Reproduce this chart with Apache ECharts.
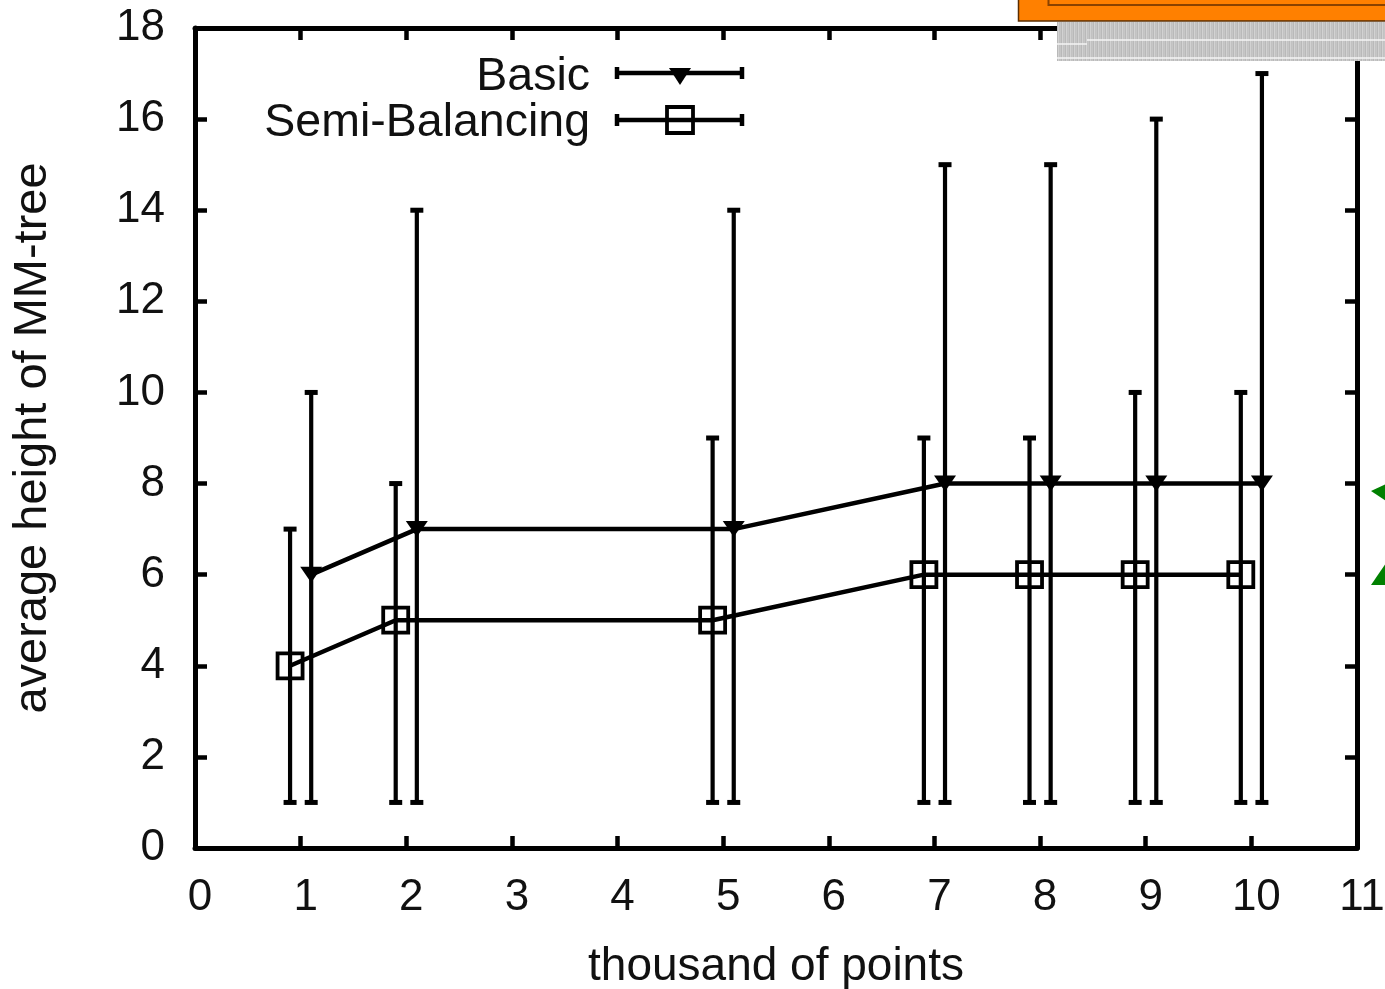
<!DOCTYPE html>
<html>
<head>
<meta charset="utf-8">
<script src="https://cdn.jsdelivr.net/npm/echarts@6/dist/echarts.min.js"></script>
<style>
  html, body { margin: 0; padding: 0; background: #ffffff; }
  #chart { width: 1385px; height: 989px; }
</style>
</head>
<body>
<div id="chart"></div>
<script>
// Tick values
const xTickValues = [0, 1, 2, 3, 4, 5, 6, 7, 8, 9, 10, 11];
const yTickValues = [0, 2, 4, 6, 8, 10, 12, 14, 16, 18];

// Basic MM-tree: average height with min/max range
const basicX    = [1.1, 2.1, 5.1, 7.1, 8.1, 9.1, 10.1];
const basicMean = [6, 7, 7, 8, 8, 8, 8];
const basicLow  = [1, 1, 1, 1, 1, 1, 1];
const basicHigh = [10, 14, 14, 15, 15, 16, 17];

// Semi-Balancing MM-tree
const semiX    = [0.9, 1.9, 4.9, 6.9, 7.9, 8.9, 9.9];
const semiMean = [4, 5, 5, 6, 6, 6, 6];
const semiLow  = [1, 1, 1, 1, 1, 1, 1];
const semiHigh = [7, 8, 9, 9, 9, 10, 10];

const seriesNames = ['Basic', 'Semi-Balancing'];
const xTitle = 'thousand of points';
const yTitle = 'average height of MM-tree';

const FONT = '"Liberation Sans", Arial, Helvetica, sans-serif';
const INK = '#000000';

const chart = echarts.init(document.getElementById('chart'), null, { renderer: 'canvas' });

function zipMean(xs, ys) { return xs.map((x, i) => [x, ys[i]]); }
function zipRange(xs, lo, hi) { return xs.map((x, i) => [x, lo[i], hi[i]]); }

// vertical error bar with short caps
function renderErrorBar(params, api) {
  const x = api.value(0);
  const pLo = api.coord([x, api.value(1)]);
  const pHi = api.coord([x, api.value(2)]);
  const half = 6.5;
  const st = { stroke: INK, lineWidth: 4.2 };
  const cap = { stroke: INK, lineWidth: 5 };
  return {
    type: 'group',
    children: [
      { type: 'line', shape: { x1: pLo[0], y1: pLo[1], x2: pHi[0], y2: pHi[1] }, style: st },
      { type: 'line', shape: { x1: pLo[0] - half, y1: pLo[1], x2: pLo[0] + half, y2: pLo[1] }, style: cap },
      { type: 'line', shape: { x1: pHi[0] - half, y1: pHi[1], x2: pHi[0] + half, y2: pHi[1] }, style: cap }
    ]
  };
}

// stripe pattern for the grey band along the top right
const stripe = document.createElement('canvas');
stripe.width = 4; stripe.height = 1;
(function () {
  const c = stripe.getContext('2d');
  const cols = ['#c6c6c6', '#b9b9b9', '#d2d2d2', '#c2c2c2'];
  cols.forEach((col, i) => { c.fillStyle = col; c.fillRect(i, 0, 1, 1); });
})();

const axisLine = { show: true, onZero: false, lineStyle: { color: INK, width: 5 } };
const axisTick = { show: true, inside: true, length: 12, lineStyle: { color: INK, width: 4.5 } };

// legend sample: line with end caps and a marker in the middle
function legendSample(y, marker) {
  const x1 = 617, x2 = 742, xm = 680;
  const items = [
    { type: 'line', shape: { x1: x1, y1: y, x2: x2, y2: y }, style: { stroke: INK, lineWidth: 4.5 } },
    { type: 'line', shape: { x1: x1, y1: y - 6, x2: x1, y2: y + 6 }, style: { stroke: INK, lineWidth: 4.5 } },
    { type: 'line', shape: { x1: x2, y1: y - 6, x2: x2, y2: y + 6 }, style: { stroke: INK, lineWidth: 4.5 } }
  ];
  if (marker === 'triangle') {
    items.push({ type: 'polygon', shape: { points: [[xm - 11, y - 5], [xm + 11, y - 5], [xm, y + 12]] }, style: { fill: INK } });
  } else {
    items.push({ type: 'rect', shape: { x: xm - 13, y: y - 13, width: 26, height: 26 }, style: { fill: 'none', stroke: INK, lineWidth: 3.8 } });
  }
  return items;
}

const option = {
  backgroundColor: '#ffffff',
  animation: false,
  textStyle: { fontFamily: FONT },
  grid: { left: 195, right: 28, top: 28, bottom: 141, containLabel: false, outerBoundsMode: 'none' },
  xAxis: [
    {
      type: 'value', position: 'bottom', min: 0, max: 11, interval: 1,
      axisLine: axisLine, axisTick: axisTick, splitLine: { show: false },
      axisLabel: { show: true, margin: 28, padding: [0, 0, 0, 10], color: '#111', fontSize: 44, fontFamily: FONT,
        formatter: v => (xTickValues.indexOf(v) >= 0 ? String(v) : '') },
      name: xTitle, nameLocation: 'middle', nameGap: 96,
      nameTextStyle: { fontSize: 46, color: '#111', fontFamily: FONT }
    },
    {
      type: 'value', position: 'top', min: 0, max: 11, interval: 1,
      axisLine: axisLine, axisTick: axisTick, splitLine: { show: false }, axisLabel: { show: false }
    }
  ],
  yAxis: [
    {
      type: 'value', position: 'left', min: 0, max: 18, interval: 2,
      axisLine: axisLine, axisTick: axisTick, splitLine: { show: false },
      axisLabel: { show: true, margin: 30, padding: [4, 0, 0, 0], color: '#111', fontSize: 44, fontFamily: FONT,
        formatter: v => (yTickValues.indexOf(v) >= 0 ? String(v) : '') },
      name: yTitle, nameLocation: 'middle', nameGap: 138, nameRotate: 90,
      nameTextStyle: { fontSize: 47, color: '#111', fontFamily: FONT }
    },
    {
      type: 'value', position: 'right', min: 0, max: 18, interval: 2,
      axisLine: axisLine, axisTick: axisTick, splitLine: { show: false }, axisLabel: { show: false }
    }
  ],
  series: [
    {
      name: seriesNames[0] + ' range', type: 'custom', xAxisIndex: 0, yAxisIndex: 0,
      renderItem: renderErrorBar, data: zipRange(basicX, basicLow, basicHigh), z: 2, silent: true
    },
    {
      name: seriesNames[1] + ' range', type: 'custom', xAxisIndex: 0, yAxisIndex: 0,
      renderItem: renderErrorBar, data: zipRange(semiX, semiLow, semiHigh), z: 2, silent: true
    },
    {
      name: seriesNames[0], type: 'line', data: zipMean(basicX, basicMean), z: 3,
      lineStyle: { color: INK, width: 4.5 },
      symbol: 'triangle', symbolRotate: 180, symbolSize: [22, 16], showAllSymbol: true,
      itemStyle: { color: INK, borderWidth: 0 }
    },
    {
      name: seriesNames[1], type: 'line', data: zipMean(semiX, semiMean), z: 3,
      lineStyle: { color: INK, width: 4.5 },
      symbol: 'rect', symbolSize: 25, showAllSymbol: true,
      itemStyle: { color: 'rgba(0,0,0,0)', borderColor: INK, borderWidth: 3.8 }
    }
  ],
  graphic: [
    // key
    { type: 'text', right: 1385 - 590, top: 54,
      style: { text: seriesNames[0], font: '46.5px ' + FONT, fill: '#111', textAlign: 'right' } },
    { type: 'text', right: 1385 - 590, top: 100,
      style: { text: seriesNames[1], font: '46.5px ' + FONT, fill: '#111', textAlign: 'right' } },
    { type: 'group', children: legendSample(73, 'triangle').concat(legendSample(120, 'square')) },
    // overlapping slide elements along the top right edge
    { type: 'rect', z: 100, shape: { x: 1057, y: 22, width: 330, height: 39 },
      style: { fill: { image: stripe, repeat: 'repeat' } } },
    { type: 'line', z: 101, shape: { x1: 1087, y1: 40, x2: 1387, y2: 40 }, style: { stroke: '#f4f4f4', lineWidth: 1.5 } },
    { type: 'line', z: 101, shape: { x1: 1057, y1: 44, x2: 1087, y2: 44 }, style: { stroke: '#f4f4f4', lineWidth: 1.5 } },
    { type: 'line', z: 101, shape: { x1: 1057, y1: 58, x2: 1387, y2: 58 }, style: { stroke: '#f4f4f4', lineWidth: 1.5 } },
    { type: 'rect', z: 102, shape: { x: 1018.5, y: -5, width: 380, height: 26 },
      style: { fill: '#ff8000', stroke: '#5a2c00', lineWidth: 1.5 } },
    { type: 'rect', z: 103, shape: { x: 1048.5, y: -20, width: 360, height: 25 },
      style: { fill: 'none', stroke: '#8a4200', lineWidth: 2 } },
    { type: 'polygon', z: 100, shape: { points: [[1371, 491], [1386, 484], [1386, 501]] }, style: { fill: '#008000' } },
    { type: 'polygon', z: 100, shape: { points: [[1371, 585], [1386, 563], [1386, 585]] }, style: { fill: '#008000' } }
  ]
};

chart.setOption(option);
</script>
</body>
</html>
